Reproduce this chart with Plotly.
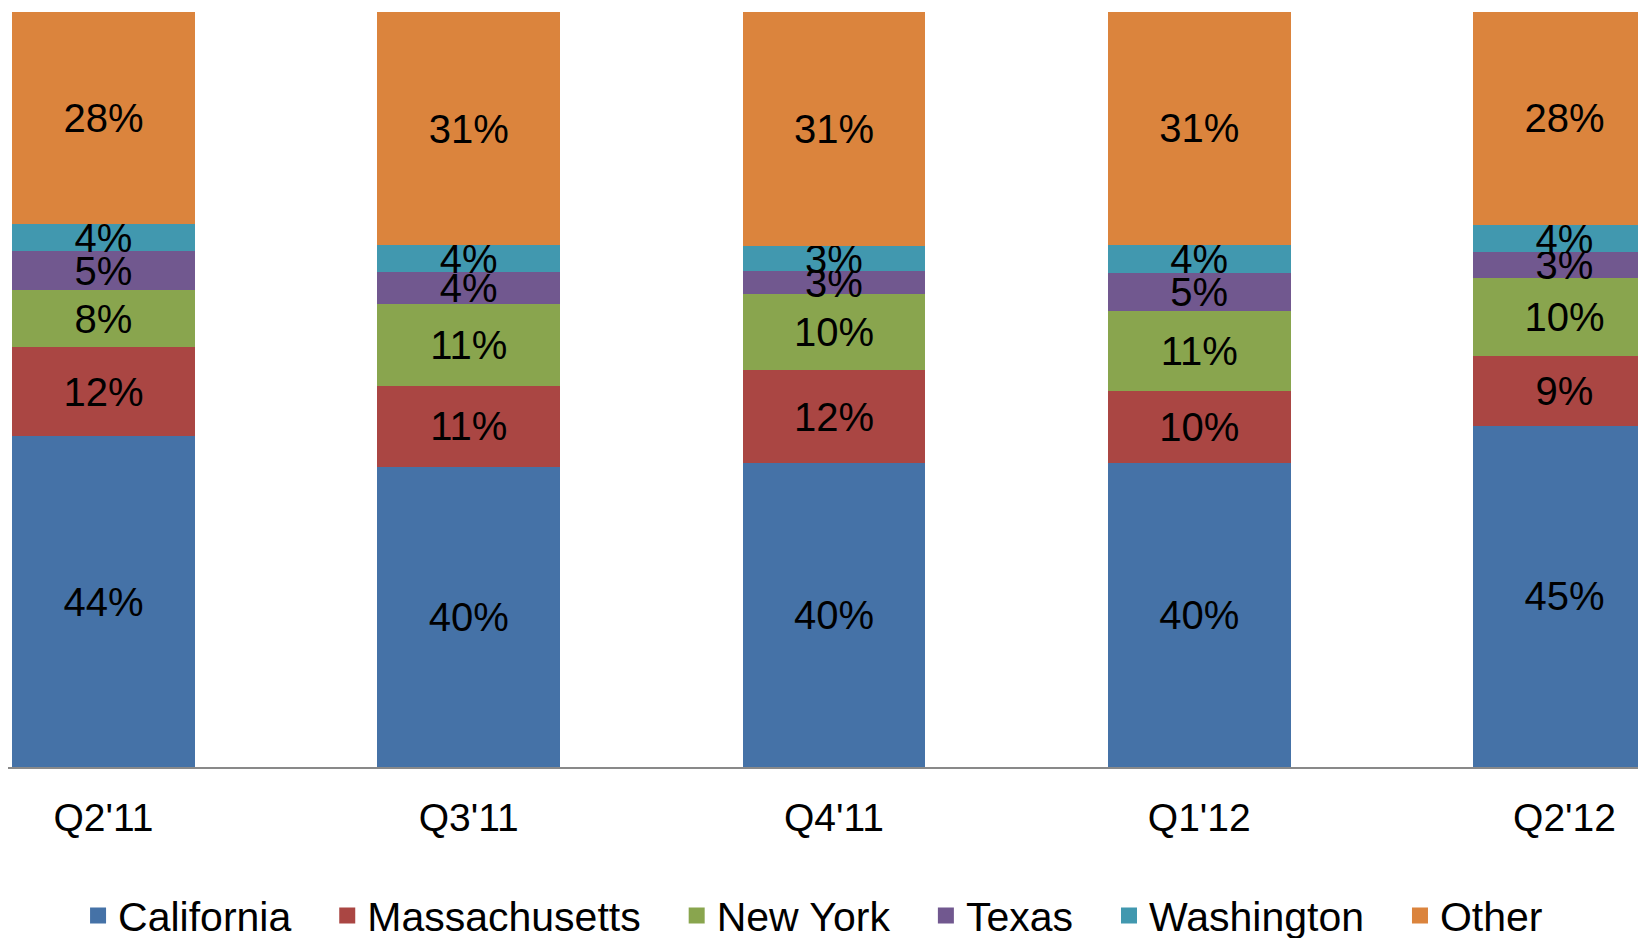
import plotly.graph_objects as go

quarters = ["Q2'11", "Q3'11", "Q4'11", "Q1'12", "Q2'12"]
california = [43.8, 39.8, 40.2, 40.2, 45.2]
massachusetts = [11.8, 10.7, 12.4, 9.6, 9.3]
new_york = [7.6, 10.8, 10.0, 10.6, 10.3]
texas = [5.1, 4.2, 3.1, 5.0, 3.4]
washington = [3.6, 3.6, 3.3, 3.75, 3.6]
other = [28.1, 30.9, 31.0, 30.85, 28.2]

series = [
    ("California", california, "#4572A7"),
    ("Massachusetts", massachusetts, "#AA4643"),
    ("New York", new_york, "#89A54E"),
    ("Texas", texas, "#71588F"),
    ("Washington", washington, "#4198AF"),
    ("Other", other, "#DB843D"),
]

font = "Liberation Sans, Arial, sans-serif"
fig = go.Figure()
for i, (name, vals, color) in enumerate(series):
    fig.add_trace(go.Bar(
        name=name, x=quarters, y=vals,
        marker=dict(color=color, line=dict(width=0)),
        texttemplate="%{y:.0f}%",
        textposition="inside",
        insidetextanchor="middle",
        textangle=0,
        textfont=dict(family=font, size=40, color="black"),
        width=0.5,
        showlegend=False,
        legendgroup=name,
    ))
for i, (name, vals, color) in enumerate(series):
    pad = "\u00a0\u00a0\u2009" if i < len(series) - 1 else ""
    fig.add_trace(go.Scatter(
        name=name + pad, x=[None], y=[None], mode="markers",
        marker=dict(symbol="square", size=24, color=color),
        legendgroup=name, showlegend=True, hoverinfo="skip",
    ))

fig.update_layout(
    barmode="stack",
    width=1630, height=930,
    margin=dict(l=0, r=0, t=3.5, b=171, autoexpand=False),
    plot_bgcolor="white", paper_bgcolor="white",
    uniformtext=dict(minsize=40, mode="show"),
    showlegend=True,
    legend=dict(orientation="h", x=0.4939, xanchor="center", y=-0.197, yanchor="middle",
                font=dict(family=font, size=41, color="black"),
                traceorder="normal", itemsizing="trace"),
    xaxis=dict(range=[-0.2615, 4.2012], showline=True, linecolor="#898989", linewidth=2,
               showgrid=False, ticks="", ticklabelstandoff=15,
               tickfont=dict(family=font, size=39, color="black")),
    yaxis=dict(range=[0, 100], showgrid=False, showticklabels=False, zeroline=False,
               showline=False),
)

fig.write_html("out.html")
